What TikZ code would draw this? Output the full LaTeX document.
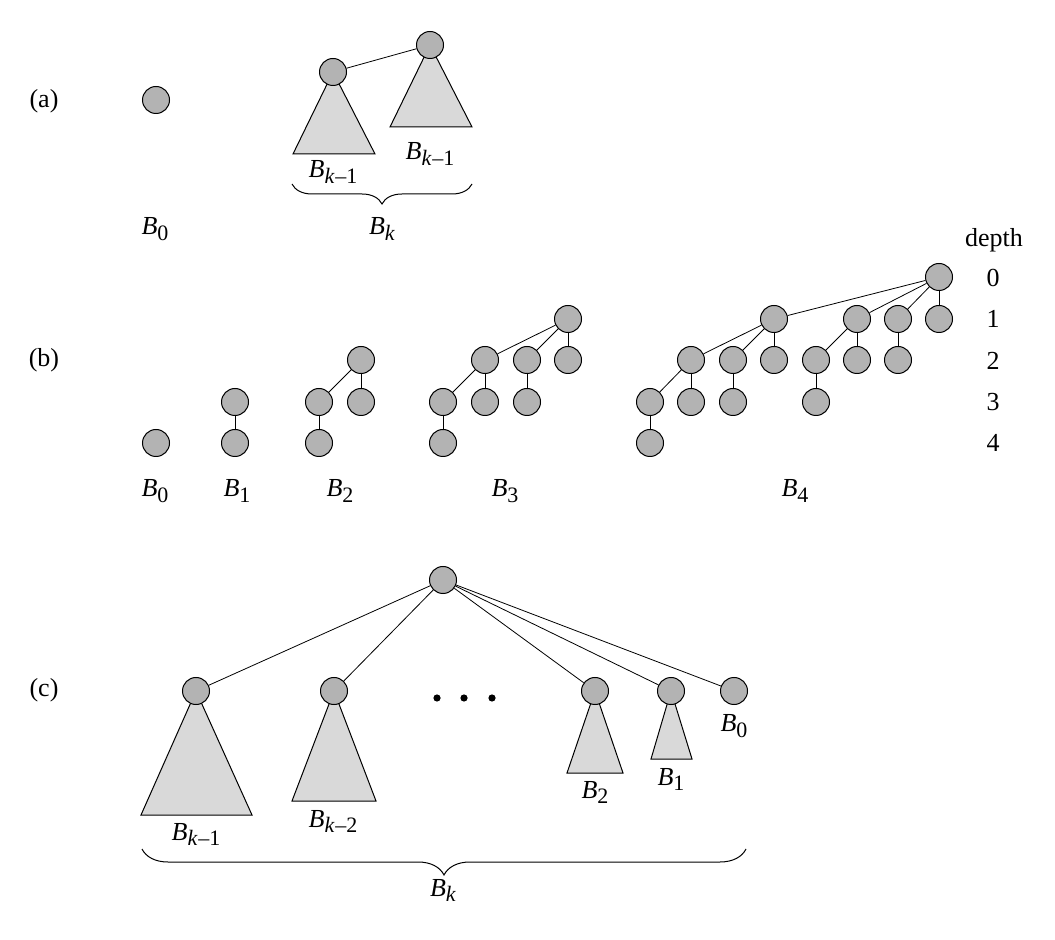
\documentclass[tikz,border=0pt]{standalone}
\usepackage{fontspec}
\setmainfont{Liberation Serif}
\usetikzlibrary{positioning, decorations.pathreplacing, backgrounds}
\definecolor{nodegray}{HTML}{B3B3B3}
\definecolor{trigray}{HTML}{D9D9D9}
\newcommand{\Bsub}[1]{\textit{B}\raisebox{-0.5ex}{\fontsize{11}{12}\selectfont #1}}
\newcommand{\km}[1]{\textit{k}\kern0.3pt--#1}

\begin{document}
\begin{tikzpicture}[x=0.5pt, y=-0.5pt,
    bnode/.style={circle, draw, fill=nodegray, minimum size=13.5pt, inner sep=0pt, line width=0.5pt},
    subtree/.style={draw, fill=trigray, line width=0.5pt},
    tag/.style={font=\fontsize{13}{15}\selectfont, inner sep=0pt},
    lbl/.style={font=\fontsize{13}{15}\selectfont, inner sep=0pt, anchor=base},
    bracedown/.style={decorate, line width=0.5pt, decoration={brace, mirror, amplitude=#1}}]
  \useasboundingbox (0,0) rectangle (1055,940);

  % (a)
  \node[tag] (tagA) at (44,101) {(a)};
  \node[bnode] (a0) at (156,100) {};
  \node[lbl] (a0lbl) at (155,235) {\Bsub{0}};
  \node[bnode] (a1) at (333,72) {};
  \node[bnode] (a2) at (430,45) {};
  \draw (a1) -- (a2);
  \begin{scope}[on background layer]
    \draw[subtree] (a1.center) -- (375,154) -- (293,154) -- cycle;
    \draw[subtree] (a2.center) -- (472,127) -- (390,127) -- cycle;
  \end{scope}
  \node[lbl] (a1lbl) at (333,178) {\Bsub{\km{1}}};
  \node[lbl] (a2lbl) at (430,160) {\Bsub{\km{1}}};
  \draw[bracedown=10pt] (292,184) -- (472,184);
  \node[lbl] (aklbl) at (382,235) {\Bsub{\textit{k}}};

  % (b)
  \node[tag] (tagB) at (44,360) {(b)};
  \foreach \n/\x/\y in {b0/156/443,
      p1/235/402, p2/235/443,
      q1/361/360, q2/319/402, q3/361/402, q4/319/443,
      r1/568/319, r2/485/360, r3/527/360, r4/568/360, r5/443/402, r6/485/402, r7/527/402, r8/443/443,
      s1/939/277, s2/774/319, s3/857/319, s4/898/319, s5/939/319,
      s6/691/360, s7/733/360, s8/774/360, s9/816/360, s10/857/360, s11/898/360,
      s12/650/402, s13/691/402, s14/733/402, s15/816/402, s16/650/443}
    \node[bnode] (\n) at (\x,\y) {};
  \foreach \a/\b in {p1/p2, q1/q2, q1/q3, q2/q4,
      r1/r2, r1/r3, r1/r4, r2/r5, r2/r6, r3/r7, r5/r8,
      s1/s2, s1/s3, s1/s4, s1/s5, s2/s6, s2/s7, s2/s8, s3/s9, s3/s10, s4/s11,
      s6/s12, s6/s13, s7/s14, s9/s15, s12/s16}
    \draw (\a) -- (\b);
  \foreach \n/\x/\t in {l0/155/0, l1/237/1, l2/340/2, l3/505/3, l4/795/4}
    \node[lbl] (\n) at (\x,497) {\Bsub{\t}};
  \node[lbl] (depth) at (994,247) {depth};
  \foreach \d/\y in {0/287, 1/328, 2/370, 3/411, 4/452}
    \node[lbl] (d\d) at (993,\y) {\d};

  % (c)
  \node[tag] (tagC) at (44,690) {(c)};
  \node[bnode] (root) at (443,580) {};
  \foreach \n/\x in {c1/196, c2/334, c3/595, c4/671, c5/734}
    \node[bnode] (\n) at (\x,691) {};
  \foreach \n in {c1, c2, c3, c4, c5}
    \draw (root) -- (\n);
  \begin{scope}[on background layer]
    \draw[subtree] (c1.center) -- (252,815) -- (141,815) -- cycle;
    \draw[subtree] (c2.center) -- (376,801) -- (292,801) -- cycle;
    \draw[subtree] (c3.center) -- (623,773) -- (567,773) -- cycle;
    \draw[subtree] (c4.center) -- (692,759) -- (651,759) -- cycle;
  \end{scope}
  \foreach \x in {437, 464, 492}
    \fill (\x,698) circle (1.8pt);
  \node[lbl] (c1lbl) at (196,840) {\Bsub{\km{1}}};
  \node[lbl] (c2lbl) at (333,827) {\Bsub{\km{2}}};
  \node[lbl] (c3lbl) at (595,798) {\Bsub{2}};
  \node[lbl] (c4lbl) at (671,785) {\Bsub{1}};
  \node[lbl] (c5lbl) at (734,732) {\Bsub{0}};
  \draw[bracedown=13pt] (142,849) -- (746,849);
  \node[lbl] (cklbl) at (443,896) {\Bsub{\textit{k}}};
\end{tikzpicture}
\end{document}
